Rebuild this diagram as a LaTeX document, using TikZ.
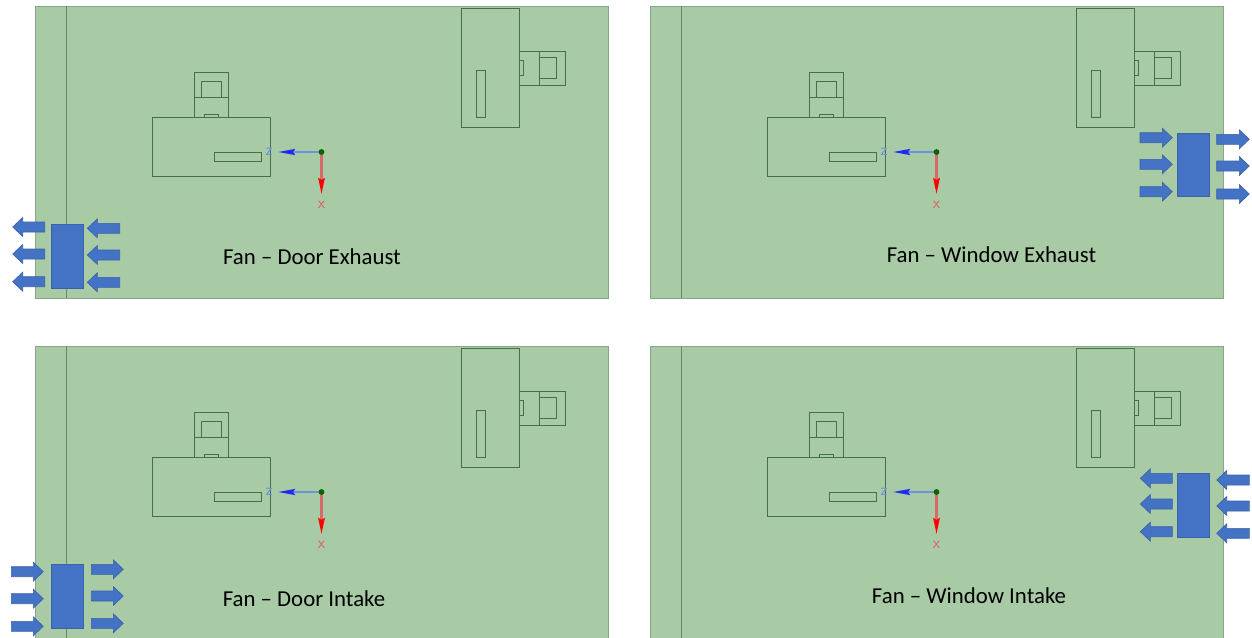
\documentclass[tikz,border=0pt]{standalone}
\usepackage{fontspec}
\setmainfont{Carlito}
\usetikzlibrary{arrows.meta}
\definecolor{room}{HTML}{A8CBA6}
\definecolor{edgeg}{HTML}{86A686}
\definecolor{part}{HTML}{44704A}
\definecolor{fan}{HTML}{4472C4}
\definecolor{fanedge}{HTML}{3A62A8}
\definecolor{zblue}{HTML}{6C93DC}
\definecolor{xred}{HTML}{D8686A}
\tikzset{
  roombox/.style={fill=room,draw=edgeg,line width=1pt},
  divider/.style={draw=part!70!room,line width=1pt},
  partline/.style={draw=part,line width=1pt},
  fanbox/.style={fill=fan,draw=fanedge,line width=.8pt},
  flow/.style={fill=fan,draw=fanedge,line width=.6pt,line join=miter},
  caption/.style={font=\fontsize{22.8}{26}\selectfont,text=black,inner sep=0pt,anchor=center},
  axlabel/.style={font=\sffamily\fontsize{17}{18}\selectfont,inner sep=0pt}
}
% \flowarrow{tail x}{tip x}{y}
\newcommand{\flowarrow}[3]{%
  \pgfmathsetmacro{\hb}{#2>#1 ? #2-10 : #2+10}%
  \draw[flow] (#1,#3-5) -- (\hb,#3-5) -- (\hb,#3-9.5) -- (#2,#3) -- (\hb,#3+9.5) -- (\hb,#3+5) -- (#1,#3+5) -- cycle;}
% \roompanel{dx}{dy}
\newcommand{\roompanel}[2]{%
  \begin{scope}[shift={(#1,#2)}]
    \draw[roombox] (35,6) rectangle (608,298);
    \draw[divider] (66,6) -- (66,298);
    % centre unit
    \draw[partline] (152.3,117.7) rectangle (270.7,176.7);
    \draw[partline] (214,152.3) rectangle (261,161.3);
    \draw[partline] (194.3,117.7) -- (194.3,72) -- (228.7,72) -- (228.7,117.7);
    \draw[partline] (194.3,97.3) -- (228.7,97.3);
    \draw[partline] (201.3,97.3) -- (201.3,81.3) -- (221.7,81.3) -- (221.7,97.3);
    \draw[partline] (204.7,117.7) -- (204.7,114.7) -- (218.7,114.7) -- (218.7,117.7);
    % corner unit
    \draw[partline] (461.3,8.3) rectangle (519.7,127);
    \draw[partline] (476.7,70.7) rectangle (485.7,117.3);
    \draw[partline] (519.7,51) -- (565.7,51) -- (565.7,85) -- (519.7,85);
    \draw[partline] (539.3,51) -- (539.3,85);
    \draw[partline] (539.3,57.3) -- (556.7,57.3) -- (556.7,78.3) -- (539.3,78.3);
    \draw[partline] (519.7,60.7) -- (523.3,60.7) -- (523.3,75.3) -- (519.7,75.3);
    % axes
    \coordinate (zt) at (278,152);
    \coordinate (xt) at (321.5,194);
    \coordinate (o) at (321.5,152);
    \draw[zblue,line width=2.2pt,-{Stealth[length=17pt,width=6pt,inset=2pt,color=blue!70!zblue]}] (o) -- (zt);
    \draw[xred,line width=2.2pt,-{Stealth[length=16pt,width=6.5pt,inset=2pt,color=red]}] (o) -- (xt);
    \fill[green!40!black] (o) circle (2.9);
    \node[axlabel,text=zblue] (zl) at (269,151.5) {z};
    \node[axlabel,text=xred] (xl) at (321.5,204.5) {x};
  \end{scope}}
\begin{document}
\begin{tikzpicture}[x=1pt,y=-1pt]
\useasboundingbox (0,0) rectangle (1252,637);
\fill[white] (0,0) rectangle (1252,637);
\clip (0,0) rectangle (1252,637);
\roompanel{0}{0}
\roompanel{615}{0}
\roompanel{0}{340}
\roompanel{615}{340}
% Door Exhaust
\draw[fanbox] (51,224) rectangle (83,288);
\flowarrow{44.7}{12.7}{227}\flowarrow{44.7}{12.7}{254}\flowarrow{44.7}{12.7}{281.7}
\flowarrow{119.7}{87.3}{228.3}\flowarrow{119.7}{87.3}{255}\flowarrow{119.7}{87.3}{282.3}
\node[caption] (c1) at (312,256.5) {Fan – Door Exhaust};
% Window Exhaust
\draw[fanbox] (1177.7,133.3) rectangle (1209.3,196.7);
\flowarrow{1140}{1172.3}{137.7}\flowarrow{1140}{1172.3}{164.3}\flowarrow{1140}{1172.3}{191.7}
\flowarrow{1216.7}{1249.3}{139.3}\flowarrow{1216.7}{1249.3}{166}\flowarrow{1216.7}{1249.3}{194}
\node[caption] (c2) at (991.5,255) {Fan – Window Exhaust};
% Door Intake
\draw[fanbox] (51,564) rectangle (83,628);
\flowarrow{11.3}{43.3}{571.7}\flowarrow{11.3}{43.3}{598.7}\flowarrow{11.3}{43.3}{626.3}
\flowarrow{91.3}{123.3}{569.3}\flowarrow{91.3}{123.3}{596}\flowarrow{91.3}{123.3}{623.3}
\node[caption] (c3) at (304,598.5) {Fan – Door Intake};
% Window Intake
\draw[fanbox] (1177.7,473.3) rectangle (1209.3,537.3);
\flowarrow{1172.3}{1140.3}{478.3}\flowarrow{1172.3}{1140.3}{504}\flowarrow{1172.3}{1140.3}{531.7}
\flowarrow{1249.3}{1216.7}{480}\flowarrow{1249.3}{1216.7}{506}\flowarrow{1249.3}{1216.7}{533.3}
\node[caption] (c4) at (969,596) {Fan – Window Intake};
\end{tikzpicture}
\end{document}
